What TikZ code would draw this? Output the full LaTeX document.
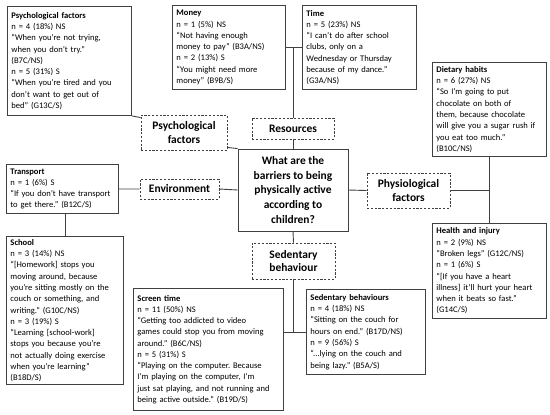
\documentclass[tikz,border=0pt]{standalone}
\usepackage{fontspec}
\setmainfont{Carlito}
\usepackage{xcolor}
\usetikzlibrary{positioning}

\definecolor{linegray}{HTML}{404040}
\newcommand{\quotefont}{\hyphenpenalty=10000 \frenchspacing\fontsize{8.6}{11.3}\selectfont}

\begin{document}
\begin{tikzpicture}[
    x=1bp, y=-1bp,
    quote/.style={rectangle, draw=linegray, line width=0.9bp, anchor=north west, inner xsep=4bp, inner ysep=3bp, align=left, font=\quotefont},
    theme/.style={rectangle, draw=linegray, line width=0.9bp, dash pattern=on 2.2bp off 1.6bp, inner sep=0pt, align=center, font=\bfseries\fontsize{11.5}{13.5}\selectfont},
    link/.style={draw=linegray, line width=0.9bp}
  ]
    \useasboundingbox (0,0) rectangle (550,414);

    % question in the middle
    \node[rectangle, draw=linegray, line width=0.9bp, minimum width=110bp, minimum height=82bp, align=center, font=\bfseries\fontsize{11.5}{14.6}\selectfont] (question) at (293,190) {What are the\\barriers to being\\physically active\\according to\\children?};

    % themes
    \node[theme, minimum width=86bp, minimum height=35bp] (psyf) at (184,132.5) {Psychological\\factors};
    \node[theme, minimum width=82bp, minimum height=21bp] (res) at (293,128.5) {Resources};
    \node[theme, minimum width=79bp, minimum height=20bp] (env) at (179.5,189) {Environment};
    \node[theme, minimum width=83bp, minimum height=35bp] (physf) at (408.5,190.5) {Physiological\\factors};
    \node[theme, minimum width=83bp, minimum height=36bp] (sedb) at (293.5,261) {Sedentary\\behaviour};

    % quotes
    \node[quote, text width=116bp, minimum height=109bp] (psych) at (7,6) {\textbf{Psychological factors}\\n = 4 (18\%) NS\\“When you’re not trying,\\when you don’t try.”\\(B7C/NS)\\n = 5 (31\%) S\\“When you’re tired and you\\don’t want to get out of\\bed” (G13C/S)};
    \node[quote, text width=105bp, minimum height=84bp] (money) at (172,5) {\textbf{Money}\\n = 1 (5\%) NS\\“Not having enough\\money to pay” (B3A/NS)\\n = 2 (13\%) S\\“You might need more\\money” (B9B/S)};
    \node[quote, text width=106bp, minimum height=84bp] (time) at (302,5) {\textbf{Time}\\n = 5 (23\%) NS\\“I can’t do after school\\clubs, only on a\\Wednesday or Thursday\\because of my dance.”\\(G3A/NS)};
    \node[quote, text width=106bp, minimum height=94bp] (diet) at (432,62) {\textbf{Dietary habits}\\n = 6 (27\%) NS\\“So I’m going to put\\chocolate on both of\\them, because chocolate\\will give you a sugar rush if\\you eat too much.”\\(B10C/NS)};
    \node[quote, text width=106bp, minimum height=95bp] (health) at (432,223) {\textbf{Health and injury}\\n = 2 (9\%) NS\\“Broken legs” (G12C/NS)\\n = 1 (6\%) S\\“[If you have a heart\\illness] it’ll hurt your heart\\when it beats so fast.”\\(G14C/S)};
    \node[quote, text width=104bp, minimum height=49bp] (transport) at (6,164) {\textbf{Transport}\\n = 1 (6\%) S\\“If you don’t have transport\\to get there.” (B12C/S)};
    \node[quote, text width=109bp, minimum height=147bp] (school) at (6,236) {\textbf{School}\\n = 3 (14\%) NS\\“[Homework] stops you\\moving around, because\\you’re sitting mostly on the\\couch or something, and\\writing.” (G10C/NS)\\n = 3 (19\%) S\\“Learning [school-work]\\stops you because you’re\\not actually doing exercise\\when you’re learning”\\(B18D/S)};
    \node[quote, text width=142bp, minimum height=122bp] (screen) at (133,288) {\textbf{Screen time}\\n = 11 (50\%) NS\\“Getting too addicted to video\\games could stop you from moving\\around.” (B6C/NS)\\n = 5 (31\%) S\\“Playing on the computer. Because\\I’m playing on the computer, I’m\\just sat playing, and not running and\\being active outside.” (B19D/S)};
    \node[quote, text width=111bp, minimum height=85bp] (sedbx) at (306,289) {\textbf{Sedentary behaviours}\\n = 4 (18\%) NS\\“Sitting on the couch for\\hours on end.” (B17D/NS)\\n = 9 (56\%) S\\“...lying on the couch and\\being lazy.” (B5A/S)};

    % links
    \draw[link] (question.north) -- (res.south);
    \draw[link] (money.east) -- (time.west);
    \draw[link] (res.north) -- (res.north |- money.east);
    \draw[link] (psych.south east) -- ([yshift=-3bp]psyf.north west);
    \draw[link] ([yshift=3bp]psyf.south east) -- (question.north west);
    \draw[link] (transport.east) -- (env.west);
    \draw[link] (env.east) -- (question.west);
    \draw[link] (school.north) -- (school.north |- transport.south);
    \draw[link] (question.east) -- (physf.west);
    \draw[link] (physf.east) -- (physf.east -| diet.south);
    \draw[link] (diet.south) -- (health.north);
    \draw[link] (question.south) -- (sedb.north);
    \draw[link] (sedb.south) -- (sedb.south |- sedbx.west);
    \draw[link] (screen.east |- sedbx.west) -- (sedbx.west);
  \end{tikzpicture}
\end{document}
